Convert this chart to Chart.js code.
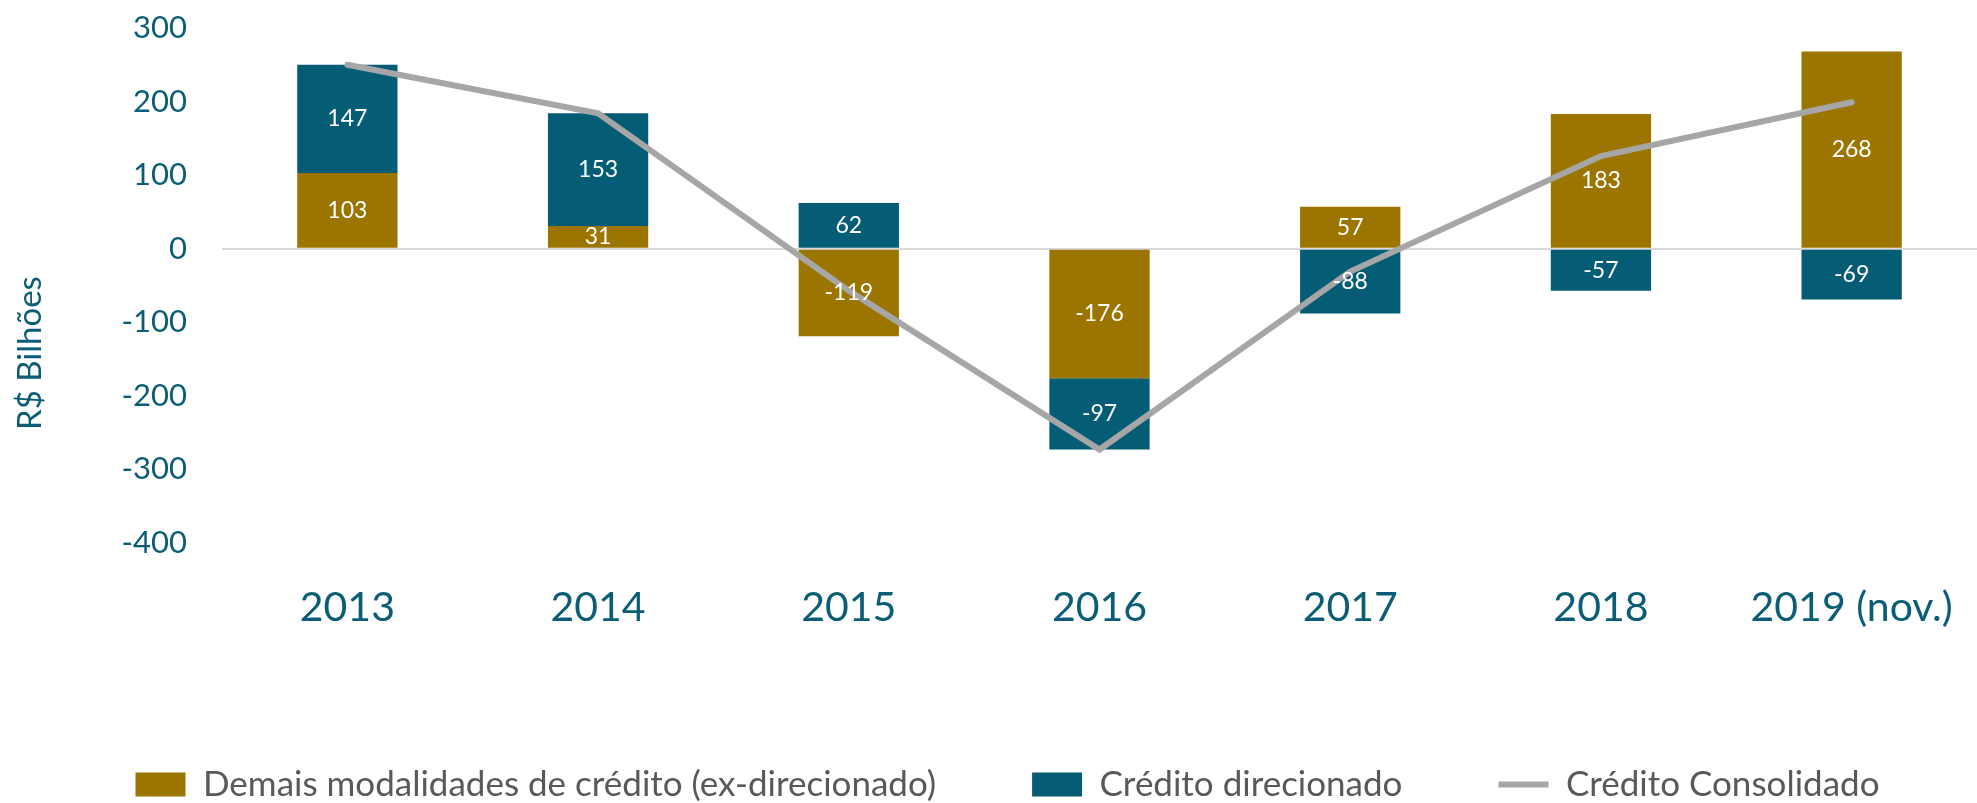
<!DOCTYPE html>
<html>
<head>
<meta charset="utf-8">
<script src="https://cdn.jsdelivr.net/npm/chart.js@4.4.1/dist/chart.umd.min.js"></script>
<style>
  html, body { margin: 0; padding: 0; background: #fff; }
  #grafico { display: block; }
</style>
</head>
<body>
<canvas id="grafico" width="1977" height="803"></canvas>
<script>
// valores (R$ bilhoes)
const anos = ['2013', '2014', '2015', '2016', '2017', '2018', '2019 (nov.)']
const demais = [103, 31, -119, -176, 57, 183, 268]
const direcionado = [147, 153, 62, -97, -88, -57, -69]
const consolidado = [250, 184, -57, -273, -31, 126, 199]
const yTicks = [-400, -300, -200, -100, 0, 100, 200, 300]

const fonte = 'Lato, Carlito, Calibri, sans-serif'
const azulTexto = '#0b5d77'
const dourado = '#9b7500'
const azul = '#055c75'
const cinza = '#a6a6a6'

// rotulos brancos no meio de cada barra
const rotulos = {
    id: 'rotulos',
    afterDatasetsDraw(chart) {
        const ctx = chart.ctx
        ctx.save()
        ctx.fillStyle = '#ffffff'
        ctx.font = `23px ${fonte}`
        ctx.textAlign = 'center'
        ctx.textBaseline = 'middle'
        chart.data.datasets.forEach((ds, i) => {
            if (ds.type === 'line') return
            chart.getDatasetMeta(i).data.forEach((bar, j) => {
                ctx.fillText(ds.data[j], bar.x, (bar.y + bar.base) / 2)
            })
        })
        ctx.restore()
    }
}

// titulo do eixo y, um pouco abaixo do centro como no original
const tituloY = {
    id: 'tituloY',
    afterDraw(chart) {
        const ctx = chart.ctx
        ctx.save()
        ctx.translate(30, 353)
        ctx.rotate(-Math.PI / 2)
        ctx.fillStyle = azulTexto
        ctx.font = `33px ${fonte}`
        ctx.textAlign = 'center'
        ctx.textBaseline = 'middle'
        ctx.fillText('R$ Bilhões', 0, 0)
        ctx.restore()
    }
}

const config = {
    type: 'bar',
    data: {
        labels: anos,
        datasets: [
            {
                label: 'Demais modalidades de crédito (ex-direcionado)',
                data: demais,
                backgroundColor: dourado,
                stack: 'barras',
                order: 1
            },
            {
                label: 'Crédito direcionado',
                data: direcionado,
                backgroundColor: azul,
                stack: 'barras',
                order: 1
            },
            {
                type: 'line',
                label: 'Crédito Consolidado',
                data: consolidado,
                borderColor: cinza,
                backgroundColor: cinza,
                borderWidth: 6,
                borderCapStyle: 'round',
                pointRadius: 0,
                tension: 0,
                stack: 'total',
                order: 0
            }
        ]
    },
    options: {
        responsive: false,
        devicePixelRatio: 1,
        animation: false,
        datasets: {
            bar: { barPercentage: 1, categoryPercentage: 0.4 }
        },
        layout: {
            padding: { top: 28, left: 30, right: -8, bottom: -9 }
        },
        scales: {
            x: {
                stacked: true,
                border: { display: false },
                grid: { drawOnChartArea: false, drawTicks: true, tickLength: 40, tickColor: 'transparent' },
                ticks: { color: azulTexto, font: { family: fonte, size: 41 }, padding: 0, maxRotation: 0 },
                afterFit: s => { s.height = 128 }
            },
            y: {
                stacked: true,
                min: yTicks[0],
                max: yTicks[yTicks.length - 1],
                border: { display: false },
                grid: {
                    drawTicks: true,
                    tickLength: 35,
                    tickColor: 'transparent',
                    color: c => c.tick && c.tick.value === 0 ? '#d9d9d9' : 'transparent',
                    lineWidth: 2
                },
                afterBuildTicks: s => { s.ticks = yTicks.map(v => ({ value: v })) },
                ticks: { color: azulTexto, font: { family: fonte, size: 31 }, padding: 0 },
                afterFit: s => { s.width = 192 }
            }
        },
        plugins: {
            tooltip: { enabled: false },
            legend: {
                position: 'bottom',
                labels: {
                    color: '#595959',
                    font: { family: fonte, size: 35 },
                    usePointStyle: true,
                    pointStyleWidth: 50,
                    boxHeight: 24,
                    padding: 96,
                    sort: (a, b) => a.datasetIndex - b.datasetIndex,
                    generateLabels(chart) {
                        const itens = Chart.defaults.plugins.legend.labels.generateLabels(chart)
                        itens.forEach(item => {
                            const ds = chart.data.datasets[item.datasetIndex]
                            if (ds.type === 'line') {
                                item.pointStyle = 'line'
                                item.lineWidth = 6
                                item.strokeStyle = cinza
                            } else {
                                item.pointStyle = 'rect'
                                item.lineWidth = 0
                            }
                        })
                        return itens
                    }
                }
            }
        }
    },
    plugins: [rotulos, tituloY]
}

const grafico = new Chart(document.getElementById('grafico'), config)
</script>
</body>
</html>
